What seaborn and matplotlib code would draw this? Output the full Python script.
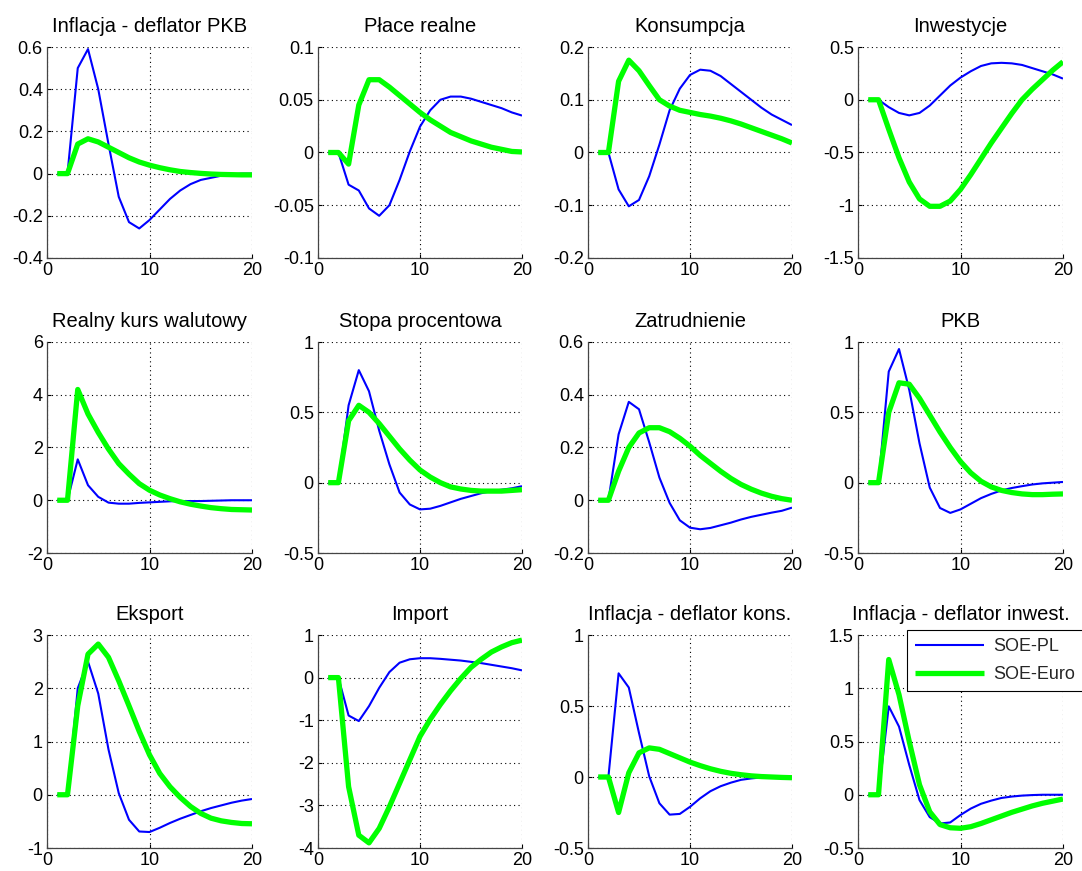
import numpy as np
import pandas as pd
import matplotlib
matplotlib.use("Agg")
import matplotlib.pyplot as plt
from matplotlib.ticker import FuncFormatter, FixedLocator
import seaborn as sns

periods = list(range(1, 21))

titles = ["Inflacja - deflator PKB", "Płace realne", "Konsumpcja", "Inwestycje",
          "Realny kurs walutowy", "Stopa procentowa", "Zatrudnienie", "PKB",
          "Eksport", "Import", "Inflacja - deflator kons.", "Inflacja - deflator inwest."]

series_names = ["SOE-PL", "SOE-Euro"]

pl_infl_pkb = [0, 0, 0.50, 0.59, 0.40, 0.14, -0.11, -0.23, -0.26, -0.22, -0.17, -0.12, -0.08, -0.05, -0.03, -0.02, -0.01, -0.005, 0, 0]
eu_infl_pkb = [0, 0, 0.14, 0.165, 0.15, 0.125, 0.10, 0.075, 0.055, 0.04, 0.028, 0.018, 0.01, 0.005, 0.001, -0.002, -0.004, -0.005, -0.006, -0.006]

pl_place = [0, 0, -0.0305, -0.036, -0.053, -0.060, -0.050, -0.026, 0.001, 0.0245, 0.040, 0.050, 0.053, 0.053, 0.051, 0.048, 0.045, 0.042, 0.038, 0.035]
eu_place = [0, 0, -0.011, 0.045, 0.069, 0.069, 0.062, 0.054, 0.046, 0.038, 0.031, 0.025, 0.019, 0.015, 0.011, 0.008, 0.005, 0.003, 0.001, 0.0005]

pl_kons = [0, 0, -0.07, -0.102, -0.09, -0.045, 0.015, 0.08, 0.121, 0.147, 0.157, 0.155, 0.145, 0.13, 0.115, 0.10, 0.085, 0.072, 0.062, 0.052]
eu_kons = [0, 0, 0.135, 0.175, 0.155, 0.127, 0.10, 0.088, 0.08, 0.076, 0.072, 0.069, 0.065, 0.06, 0.054, 0.047, 0.04, 0.033, 0.026, 0.018]

pl_inw = [0, 0, -0.07, -0.125, -0.148, -0.125, -0.055, 0.04, 0.135, 0.21, 0.27, 0.32, 0.345, 0.35, 0.345, 0.33, 0.30, 0.27, 0.24, 0.20]
eu_inw = [0, 0, -0.28, -0.55, -0.78, -0.94, -1.01, -1.01, -0.96, -0.85, -0.71, -0.56, -0.41, -0.27, -0.13, 0.0, 0.10, 0.19, 0.28, 0.36]

pl_kurs = [0, 0, 1.55, 0.57, 0.13, -0.09, -0.13, -0.13, -0.10, -0.08, -0.06, -0.04, -0.03, -0.03, -0.03, -0.02, -0.01, 0, 0, 0]
eu_kurs = [0, 0, 4.2, 3.27, 2.57, 1.94, 1.39, 0.99, 0.63, 0.38, 0.2, 0.06, -0.06, -0.15, -0.22, -0.28, -0.32, -0.35, -0.36, -0.37]

pl_stopa = [0, 0, 0.55, 0.80, 0.65, 0.37, 0.13, -0.07, -0.155, -0.19, -0.185, -0.165, -0.14, -0.115, -0.095, -0.075, -0.06, -0.05, -0.04, -0.025]
eu_stopa = [0, 0, 0.44, 0.55, 0.50, 0.42, 0.33, 0.24, 0.16, 0.09, 0.04, 0.0, -0.03, -0.045, -0.055, -0.06, -0.06, -0.06, -0.055, -0.05]

pl_zatr = [0, 0, 0.25, 0.373, 0.345, 0.22, 0.086, -0.01, -0.076, -0.104, -0.11, -0.105, -0.095, -0.085, -0.073, -0.063, -0.055, -0.047, -0.04, -0.028]
eu_zatr = [0, 0, 0.11, 0.20, 0.255, 0.275, 0.275, 0.26, 0.235, 0.205, 0.17, 0.14, 0.11, 0.083, 0.06, 0.042, 0.027, 0.015, 0.006, 0.0]

pl_pkb = [0, 0, 0.79, 0.95, 0.66, 0.28, -0.035, -0.18, -0.215, -0.19, -0.15, -0.11, -0.08, -0.055, -0.038, -0.025, -0.013, -0.005, 0.0, 0.005]
eu_pkb = [0, 0, 0.50, 0.71, 0.70, 0.60, 0.48, 0.36, 0.25, 0.15, 0.07, 0.01, -0.03, -0.055, -0.07, -0.08, -0.085, -0.085, -0.082, -0.08]

pl_eksp = [0, 0, 2.0, 2.5, 1.9, 0.85, 0.03, -0.47, -0.69, -0.70, -0.62, -0.53, -0.45, -0.38, -0.31, -0.25, -0.20, -0.15, -0.11, -0.08]
eu_eksp = [0, 0, 1.67, 2.64, 2.83, 2.58, 2.14, 1.67, 1.19, 0.75, 0.40, 0.15, -0.05, -0.22, -0.35, -0.44, -0.49, -0.52, -0.54, -0.545]

pl_imp = [0, 0, -0.89, -1.02, -0.67, -0.24, 0.13, 0.35, 0.43, 0.455, 0.455, 0.44, 0.42, 0.40, 0.37, 0.34, 0.30, 0.26, 0.22, 0.17]
eu_imp = [0, 0, -2.56, -3.70, -3.88, -3.54, -3.03, -2.48, -1.93, -1.38, -0.98, -0.63, -0.31, -0.02, 0.24, 0.43, 0.60, 0.72, 0.82, 0.88]

pl_infl_kons = [0, 0, 0.73, 0.63, 0.31, 0.005, -0.185, -0.265, -0.26, -0.21, -0.15, -0.10, -0.065, -0.04, -0.02, -0.01, -0.003, 0, 0, 0]
eu_infl_kons = [0, 0, -0.25, 0.03, 0.17, 0.205, 0.195, 0.165, 0.135, 0.105, 0.08, 0.058, 0.04, 0.026, 0.016, 0.008, 0.003, 0.0, -0.003, -0.005]

pl_infl_inw = [0, 0, 0.83, 0.64, 0.28, -0.05, -0.21, -0.27, -0.26, -0.19, -0.13, -0.085, -0.055, -0.03, -0.017, -0.008, -0.003, 0, 0, 0]
eu_infl_inw = [0, 0, 1.27, 0.94, 0.50, 0.094, -0.16, -0.28, -0.31, -0.315, -0.30, -0.27, -0.235, -0.20, -0.165, -0.135, -0.105, -0.08, -0.06, -0.04]

pl_all = [pl_infl_pkb, pl_place, pl_kons, pl_inw, pl_kurs, pl_stopa, pl_zatr, pl_pkb,
          pl_eksp, pl_imp, pl_infl_kons, pl_infl_inw]
eu_all = [eu_infl_pkb, eu_place, eu_kons, eu_inw, eu_kurs, eu_stopa, eu_zatr, eu_pkb,
          eu_eksp, eu_imp, eu_infl_kons, eu_infl_inw]

y_ticks = [
    [-0.4, -0.2, 0, 0.2, 0.4, 0.6],
    [-0.1, -0.05, 0, 0.05, 0.1],
    [-0.2, -0.1, 0, 0.1, 0.2],
    [-1.5, -1, -0.5, 0, 0.5],
    [-2, 0, 2, 4, 6],
    [-0.5, 0, 0.5, 1],
    [-0.2, 0, 0.2, 0.4, 0.6],
    [-0.5, 0, 0.5, 1],
    [-1, 0, 1, 2, 3],
    [-4, -3, -2, -1, 0, 1],
    [-0.5, 0, 0.5, 1],
    [-0.5, 0, 0.5, 1, 1.5],
]
x_ticks = [0, 10, 20]

sns.set_style("white")
plt.rcParams['font.family'] = ['Liberation Sans', 'DejaVu Sans']
plt.rcParams['axes.unicode_minus'] = False

fig = plt.figure(figsize=(10.82, 8.71), dpi=100)

lefts = [47, 318, 588, 858]
col_w = [205, 204, 204, 205]
row_top = [47, 342, 635]
row_bot = [258, 553, 848]
W, H = 1082, 871

colors = {"SOE-PL": "#0000ff", "SOE-Euro": "#00ff00"}
widths = {"SOE-PL": 1.5, "SOE-Euro": 3.8}

axes = []
for i in range(12):
    r, c = divmod(i, 4)
    l = lefts[c] / W
    b = (H - row_bot[r]) / H
    w = col_w[c] / W
    h = (row_bot[r] - row_top[r]) / H
    ax = fig.add_axes([l, b, w, h])
    axes.append(ax)
    df = pd.DataFrame({
        "okres": periods * 2,
        "wartosc": pl_all[i] + eu_all[i],
        "model": ["SOE-PL"] * 20 + ["SOE-Euro"] * 20,
    })
    for name in series_names:
        sub = df[df["model"] == name]
        sns.lineplot(data=sub, x="okres", y="wartosc", ax=ax, color=colors[name],
                     linewidth=widths[name], label=name, legend=False,
                     solid_joinstyle='round', solid_capstyle='butt')
    yt = y_ticks[i]
    ax.set_xlim(0, 20)
    ax.set_ylim(yt[0], yt[-1])
    ax.xaxis.set_major_locator(FixedLocator(x_ticks))
    ax.yaxis.set_major_locator(FixedLocator(yt))
    ax.yaxis.set_major_formatter(FuncFormatter(lambda v, p: f"{round(v, 4):g}"))
    ax.xaxis.set_major_formatter(FuncFormatter(lambda v, p: f"{v:g}"))
    ax.set_xlabel("")
    ax.set_ylabel("")
    ax.set_title(titles[i], fontsize=14.5, pad=11, color="black")
    ax.grid(True, color="black", linestyle=(0, (1, 3)), linewidth=0.8)
    ax.set_axisbelow(True)
    for s in ["top", "right"]:
        ax.spines[s].set_visible(False)
    for s in ["left", "bottom"]:
        ax.spines[s].set_color("#444444")
        ax.spines[s].set_linewidth(0.9)
    ax.tick_params(axis="both", direction="in", length=3, labelsize=13,
                   colors="black", pad=3, left=True, bottom=True)

leg_ax = axes[11]
handles, labels = leg_ax.get_legend_handles_labels()
leg = fig.legend(handles, labels, loc="upper left",
                 bbox_to_anchor=(907 / W, (H - 630) / H), bbox_transform=fig.transFigure,
                 fontsize=13, frameon=True, fancybox=False, handlelength=3.8,
                 borderpad=0.45, labelspacing=0.6, handletextpad=0.5, borderaxespad=0)
leg.get_frame().set_edgecolor("black")
leg.get_frame().set_linewidth(0.8)
leg.get_frame().set_alpha(1)

fig.savefig("out.png", dpi=100)
